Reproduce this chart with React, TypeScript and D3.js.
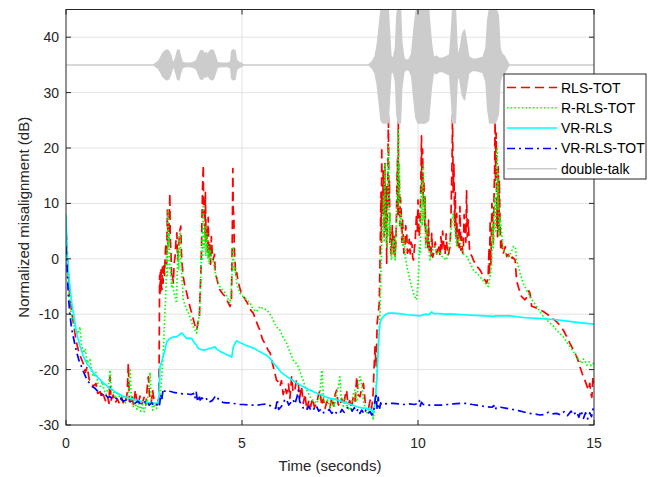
import React from "react";
import * as d3 from "d3";

// ---- data: [time (s), misalignment (dB)] ----
const rlsTot: [number, number][] = [
  [0, 5], [0.02, 3.5], [0.05, -1], [0.08, -4], [0.11, -7], [0.16, -9.5], [0.21, -11.6], [0.28, -14.5], [0.35, -16.5],
  [0.42, -17.8], [0.49, -18.9], [0.55, -20.5], [0.6, -19.5], [0.66, -21.8], [0.72, -22.3], [0.78, -23], [0.85, -22.5],
  [0.9, -24.3], [0.97, -24], [1.02, -25.2], [1.06, -24.5], [1.12, -25.6], [1.18, -24.8], [1.22, -26.1], [1.25, -21.3],
  [1.28, -25.5], [1.34, -24.6], [1.4, -26], [1.46, -25.3], [1.52, -26.2], [1.58, -25], [1.64, -26.3], [1.7, -25.4],
  [1.74, -24.2], [1.77, -18.9], [1.8, -25.8], [1.86, -24.6], [1.92, -26.4], [1.97, -23.7], [2.0, -25.2], [2.05, -26.5],
  [2.1, -24.8], [2.16, -26.2], [2.22, -25], [2.27, -26.4], [2.31, -23], [2.34, -21.3], [2.37, -24.5], [2.42, -26],
  [2.46, -23.7], [2.5, -25.5], [2.55, -26.2], [2.6, -26.1], [2.64, -25], [2.66, -3], [2.67, -6.5], [2.68, -2.5],
  [2.69, -6], [2.7, -2], [2.71, -5], [2.73, -5.5], [2.74, -1.5], [2.76, -4.4], [2.78, -1], [2.8, -3], [2.82, 1],
  [2.84, 2.8], [2.86, -1], [2.88, 8.8], [2.9, 2], [2.92, 5], [2.94, 9], [2.95, 11.8], [2.96, 4], [2.98, 1.6],
  [3.0, -3], [3.02, -2.5], [3.05, -4.4], [3.07, -1], [3.1, 0.5], [3.12, 3], [3.15, 4.7], [3.17, 0], [3.2, 2],
  [3.23, 5], [3.26, 5.9], [3.28, 1], [3.3, -1], [3.33, -3.2], [3.38, -5], [3.43, -6.2], [3.48, -7.6],
  [3.52, -8.6], [3.57, -9.8], [3.62, -11], [3.67, -12.2], [3.71, -12.9], [3.75, -11.5], [3.79, -10.4], [3.81, -6],
  [3.83, -3], [3.85, 2], [3.86, 6], [3.88, 13], [3.9, 16.9], [3.91, 8], [3.93, 10.6], [3.95, 4], [3.96, 12],
  [3.98, 3], [4.0, 5.8], [4.02, 1], [4.04, 7.5], [4.06, 0.5], [4.09, 2.8], [4.11, -1], [4.13, 4], [4.16, 0.5],
  [4.18, -0.2], [4.22, 0.8], [4.24, -2.5], [4.27, -3.2], [4.32, -4.5], [4.37, -5.6], [4.45, -6.3], [4.52, -6.8],
  [4.6, -7.8], [4.66, -8.6], [4.7, -7.5], [4.72, 1.6], [4.74, 16.3], [4.75, 9], [4.77, 7.6], [4.78, 2], [4.8, -0.2],
  [4.82, -3], [4.85, -2.5], [4.9, -4.4], [4.97, -6], [5.04, -6.8],
  [5.1, -7.4], [5.18, -8.3], [5.25, -9.3], [5.32, -9.8], [5.4, -11.2], [5.46, -12.2], [5.51, -12.9], [5.58, -14.5],
  [5.64, -15.2], [5.7, -15.9], [5.75, -16.6], [5.8, -17], [5.85, -18.5], [5.89, -19.5], [5.94, -20.8], [5.98, -21.9],
  [6.03, -22.2], [6.08, -23], [6.12, -22], [6.17, -24.5], [6.22, -23.2], [6.27, -24.3], [6.32, -22.6], [6.36, -25.2],
  [6.41, -21.3], [6.45, -24.1], [6.5, -23.7], [6.55, -21.8], [6.6, -22.5], [6.64, -25.1], [6.69, -23], [6.74, -26.1],
  [6.79, -24.4], [6.84, -27.3], [6.9, -25.5], [6.95, -26.7], [7.0, -25.2], [7.06, -26.8], [7.12, -26.1], [7.17, -24.6],
  [7.22, -23.7], [7.26, -26.5], [7.31, -25.3], [7.36, -27], [7.41, -25.8], [7.46, -26.4], [7.5, -26.9], [7.55, -25.1],
  [7.6, -26.6], [7.65, -24.4], [7.69, -23.7], [7.73, -26.2], [7.78, -26.7], [7.83, -25.2], [7.88, -26.4], [7.93, -24.8],
  [7.97, -23.7], [8.01, -26.3], [8.06, -25.6], [8.11, -27], [8.16, -24.9], [8.21, -25.7], [8.26, -21.3], [8.3, -24.6],
  [8.35, -24.9], [8.4, -23.4], [8.45, -22.5], [8.5, -25.9], [8.54, -26.1], [8.6, -26.8], [8.64, -25.5], [8.68, -27],
  [8.72, -25], [8.75, -20], [8.78, -15.9], [8.81, -19.5], [8.84, -11.6], [8.87, -9.8], [8.9, -8], [8.92, -0.8],
  [8.94, 8], [8.95, 12], [8.96, 3], [8.97, 20.2], [8.98, 10], [9.0, 8.2], [9.01, 16], [9.03, 15], [9.04, 4],
  [9.06, 17.2], [9.07, 9], [9.09, 5], [9.1, 13], [9.11, -0.8], [9.12, 6], [9.14, 12], [9.15, 20], [9.16, 26],
  [9.17, 10], [9.19, 14.2], [9.2, 3], [9.22, 5], [9.23, 1], [9.25, 0.9], [9.27, 6], [9.29, 3.3], [9.31, 0.5],
  [9.33, 4], [9.35, 0.4], [9.37, 3], [9.39, 8], [9.4, 14], [9.42, 18], [9.43, 8], [9.44, 26], [9.45, 12],
  [9.47, 14.2], [9.48, 6], [9.5, 11], [9.52, 9.4], [9.54, 3], [9.56, 7], [9.58, 4], [9.6, 1], [9.63, 2.2], [9.65, 6],
  [9.68, 4.6], [9.7, 1], [9.73, 1.5], [9.75, 3.5], [9.78, 0.9], [9.8, 3], [9.83, 2.5], [9.85, 0.2], [9.87, -0.2],
  [9.9, 2], [9.92, 3], [9.94, 6], [9.96, 8.2], [9.98, 5], [10.0, 10.6], [10.03, 4], [10.06, 6.4], [10.08, 14],
  [10.1, 22.2], [10.11, 12], [10.13, 19.8], [10.15, 10], [10.17, 14.2], [10.19, 6], [10.2, 11.2], [10.22, 3],
  [10.25, 5.2], [10.28, 2], [10.3, 7], [10.32, 1], [10.34, 2.2], [10.37, 0.5], [10.39, 4.6], [10.42, 0.3],
  [10.45, 1.2], [10.49, 3], [10.53, 0.9], [10.58, 2.5], [10.63, 0.4], [10.65, 4], [10.68, 1.8], [10.7, 5],
  [10.72, 3.3], [10.77, 0.8], [10.8, 4.5], [10.82, 2.4], [10.86, 0.6], [10.91, 2.2], [10.93, 6], [10.95, 12],
  [10.97, 19], [10.98, 26], [11.0, 12], [11.02, 17.2], [11.04, 6], [11.06, 12], [11.08, 4], [11.1, 8.2], [11.12, 2],
  [11.14, 5.2], [11.17, 2], [11.19, 9.4], [11.22, 1.5], [11.24, 4], [11.27, 1], [11.29, 2.2], [11.31, 8],
  [11.33, 6], [11.36, 3], [11.38, 12.4], [11.4, 4], [11.43, 7], [11.46, 2], [11.48, 0.9], [11.53, 0.5],
  [11.57, -0.2], [11.62, -0.8], [11.67, -1.4], [11.72, -1.7], [11.76, -2], [11.81, -2.6], [11.86, -3.2],
  [11.9, -3.8], [11.95, -4.4], [11.99, -3.5], [12.02, 2], [12.03, -3], [12.05, 7], [12.07, -1], [12.08, 2.2],
  [12.1, 10], [12.12, 8], [12.14, 3], [12.16, 11.2], [12.18, 17], [12.19, 26], [12.2, 14], [12.22, 22.7],
  [12.24, 6], [12.25, 10.6], [12.26, 4], [12.28, 16.6], [12.3, 5], [12.31, 14.2], [12.33, 7], [12.35, 2],
  [12.37, 3.3], [12.42, 0.9], [12.48, 2.2], [12.52, 0.4], [12.57, 0.8], [12.61, -0.2], [12.68, 0.3], [12.76, -0.2],
  [12.8, -3.9], [12.87, -5.5], [12.94, -6.8], [13.0, -7.2], [13.04, -7.4], [13.1, -6.8], [13.15, -5.8], [13.18, -6.2],
  [13.23, -8.6], [13.3, -8.7], [13.37, -8.9], [13.45, -9.2], [13.56, -9.5], [13.65, -9.9], [13.75, -10.4],
  [13.85, -10.9], [13.94, -11.4], [14.03, -12], [14.13, -12.9], [14.22, -14], [14.32, -15.3], [14.42, -16.5],
  [14.51, -17.7], [14.56, -18.6], [14.6, -19.5], [14.67, -20.8], [14.74, -21.9], [14.79, -22.8], [14.84, -23.7],
  [14.88, -22.5], [14.91, -24.3], [14.94, -25], [14.97, -21.3], [15, -22.5],
];

const rRlsTot: [number, number][] = [
  [0, 4], [0.03, 0], [0.06, -4], [0.1, -7.5], [0.15, -10], [0.21, -11.6], [0.28, -13], [0.34, -13.5], [0.4, -12.3],
  [0.44, -15.5], [0.49, -17], [0.55, -16.2], [0.6, -18.8], [0.68, -18.2], [0.73, -20.5], [0.78, -21.3], [0.85, -20.5],
  [0.91, -22.6], [0.97, -23], [1.03, -22.2], [1.08, -23.7], [1.14, -24.5], [1.2, -23.2], [1.25, -20.1], [1.29, -23.5],
  [1.34, -23.7], [1.4, -25.2], [1.46, -24.3], [1.53, -24.9], [1.58, -25.8], [1.63, -24.6], [1.68, -26.1], [1.73, -25.3],
  [1.78, -23.9], [1.82, -20.1], [1.86, -25.5], [1.91, -26.7], [1.96, -25.9], [2.02, -27.2], [2.07, -26.1],
  [2.12, -27.5], [2.17, -26.3], [2.22, -27.6], [2.27, -26.5], [2.32, -25.2], [2.36, -23], [2.39, -20.5], [2.42, -25],
  [2.46, -27.3], [2.52, -26.2], [2.57, -27], [2.62, -26.1], [2.67, -25.5], [2.72, -21], [2.76, -17.6], [2.8, -11],
  [2.84, -5.6], [2.85, -1], [2.87, 1.6], [2.88, -3], [2.9, 8.8], [2.91, 2], [2.93, 4.6], [2.95, -2], [2.97, -1.4],
  [3.0, -5], [3.02, -4], [3.05, -5.6], [3.1, -7], [3.14, -8], [3.16, -2], [3.18, 1.6], [3.2, -2], [3.22, 3],
  [3.24, 4.6], [3.26, 0], [3.28, -1.4], [3.33, -7.4], [3.38, -8.3], [3.43, -9.2], [3.48, -9.8], [3.52, -10.4],
  [3.57, -11.4], [3.62, -12.3], [3.67, -12.9], [3.71, -13.4], [3.76, -11.5], [3.8, -9.2], [3.84, -1], [3.86, 3],
  [3.87, 5], [3.88, 0], [3.9, 9.4], [3.92, 2], [3.95, 5.8], [3.97, 0.5], [4.0, 4.6], [4.03, 0], [4.05, 2.5],
  [4.07, -1], [4.09, 1.6], [4.14, 0.5], [4.19, -0.8], [4.26, -3.2], [4.32, -4.2],
  [4.37, -5], [4.45, -5.7], [4.52, -6.2], [4.6, -7.2], [4.66, -8], [4.7, -5], [4.73, -1], [4.75, 2.2], [4.77, -2],
  [4.8, -1.5], [4.85, -4.4],
  [4.94, -6.2], [5.04, -6.9], [5.13, -7.4], [5.23, -8], [5.32, -9.2], [5.42, -9.5], [5.51, -8.6], [5.6, -9], [5.7, -9.2],
  [5.77, -9.8], [5.84, -10.4], [5.91, -11.4], [5.98, -12.3], [6.08, -12.9], [6.17, -14.2], [6.27, -15.3],
  [6.36, -16.8], [6.46, -18.3], [6.53, -18.8], [6.6, -19.5], [6.65, -20.5], [6.7, -21.3], [6.75, -22.2], [6.79, -23],
  [6.86, -24], [6.93, -24.9], [7.02, -25.6], [7.12, -26.1], [7.18, -25.2], [7.22, -23.7], [7.27, -20.1], [7.31, -24.8],
  [7.36, -26.2], [7.43, -25.5], [7.5, -26.7], [7.56, -25.2], [7.62, -26.8], [7.68, -24.6], [7.74, -23], [7.78, -21.3],
  [7.82, -25.5], [7.88, -26.6], [7.94, -25.3], [8.0, -26.9], [8.07, -27.3], [8.13, -25.5], [8.17, -24.2],
  [8.21, -23.7], [8.26, -25.8], [8.31, -22.5], [8.35, -21.3], [8.4, -22.4], [8.45, -25.6], [8.49, -26.7],
  [8.55, -27.8], [8.6, -26.9], [8.65, -27.9], [8.68, -27.3], [8.73, -29.1], [8.78, -26], [8.83, -20.7], [8.87, -16.5],
  [8.92, -9.8], [8.95, -2], [8.97, 2.2], [8.99, 6], [9.02, 11.2], [9.04, 3], [9.06, 17.2], [9.08, 5], [9.09, 8],
  [9.11, 2.2], [9.13, 9], [9.14, 12], [9.16, 20.2], [9.18, 4], [9.2, 8.2], [9.22, 1], [9.25, -0.2], [9.28, 3],
  [9.3, 1], [9.33, 4], [9.35, -0.2], [9.38, 5], [9.4, 10], [9.42, 16], [9.44, 23.2], [9.45, 10], [9.47, 17.2],
  [9.49, 6], [9.52, 8.2], [9.55, 3], [9.58, 2.2], [9.6, 4], [9.63, 0.9],
  [9.68, -1.4], [9.73, -2.6], [9.77, -3.8], [9.82, -5], [9.87, -6.2], [9.92, -7], [9.96, -7.4], [10.01, -3.8],
  [10.04, 2], [10.06, 0.9], [10.08, 8], [10.1, 14.2], [10.12, 6], [10.15, 17.2], [10.17, 7], [10.2, 11.2],
  [10.22, 2], [10.25, 6], [10.29, 3.3], [10.34, -0.2], [10.4, 1.5],
  [10.48, 2.2], [10.55, 0.8], [10.62, 1.4], [10.7, 0.2], [10.81, -0.2], [10.86, 1.5], [10.91, 3.3], [10.96, 6.5],
  [11.0, 8.2], [11.05, 5.2], [11.1, 2.2], [11.15, 4], [11.19, 3.3], [11.25, 1.5], [11.29, 0.9], [11.38, 0.4],
  [11.48, -0.8], [11.57, -2], [11.67, -2.6], [11.76, -3.2], [11.9, -4.4], [12.0, -5], [12.05, -3], [12.09, -1.4],
  [12.12, 6.4], [12.14, 2], [12.16, 9], [12.19, 11.2], [12.21, 5], [12.23, 15], [12.25, 19.8], [12.27, 9],
  [12.28, 14.2], [12.3, 4], [12.33, 7.6], [12.37, 5.2], [12.42, 1.6],
  [12.5, 0.9], [12.57, 0.4], [12.65, 1.2], [12.71, 2.2], [12.76, 2.2], [12.8, -0.2], [12.9, -2.6], [12.99, -4.4],
  [13.09, -5.7], [13.18, -6.8], [13.28, -7.8], [13.37, -8.6], [13.46, -9.5], [13.56, -10.4], [13.65, -11],
  [13.75, -11.6], [13.85, -12.2], [13.94, -12.9], [14.03, -13.5], [14.13, -14.1], [14.22, -15], [14.32, -15.9],
  [14.42, -16.8], [14.51, -17.7], [14.58, -18.3], [14.65, -18.9], [14.7, -18.1], [14.74, -18.3], [14.8, -19.2],
  [14.86, -18.6], [14.92, -19.3], [14.98, -18.9], [15, -19.2],
];

const vrRls: [number, number][] = [
  [0, 8], [0.02, 4], [0.04, 0.4], [0.07, -2.5], [0.11, -5], [0.16, -7.8], [0.21, -9.8], [0.3, -13.4], [0.4, -15.8],
  [0.49, -17.6], [0.6, -19], [0.7, -19.8], [0.78, -20.6], [0.9, -21.4], [1.06, -22.4], [1.25, -23.4], [1.44, -24.2],
  [1.62, -24.8], [1.82, -25.2], [2.0, -25.5], [2.2, -25.8], [2.4, -26], [2.58, -26.1], [2.64, -25.6], [2.67, -19.5],
  [2.72, -18.5], [2.81, -16.5], [2.86, -15], [2.95, -14.4], [3.05, -14.1], [3.14, -14.1], [3.22, -13.7], [3.29, -13.4],
  [3.36, -13.9], [3.43, -14.4], [3.5, -14.3], [3.57, -14.4], [3.65, -15.2], [3.71, -15.6], [3.76, -16.2], [3.85, -16.4],
  [3.95, -16.5], [4.05, -16.2], [4.14, -16.1], [4.23, -15.9], [4.28, -16.3], [4.4, -16.8], [4.5, -17.1], [4.6, -17.4],
  [4.71, -17.7], [4.75, -16], [4.8, -15.3], [4.85, -14.8], [4.9, -15], [5.0, -15.3], [5.1, -15.6], [5.23, -15.9],
  [5.35, -16.2], [5.51, -16.8], [5.6, -17.1], [5.7, -17.4], [5.8, -18], [5.89, -18.8], [6.0, -19.6], [6.1, -20.4],
  [6.2, -20.9], [6.36, -21.6], [6.5, -22.2], [6.65, -22.8], [6.8, -23.3], [7.03, -24], [7.22, -24.5], [7.4, -25],
  [7.5, -25.2], [7.6, -25.3], [7.78, -25.6], [7.95, -26], [8.1, -26.3], [8.26, -26.7], [8.4, -26.9], [8.55, -27],
  [8.68, -27.2], [8.73, -27.9], [8.78, -26], [8.83, -21.9], [8.87, -16], [8.92, -11.5], [8.97, -10.8], [9.05, -10.2],
  [9.16, -9.8], [9.3, -9.8], [9.48, -9.9], [9.7, -10.1], [9.9, -10.2], [10.06, -10.3], [10.2, -10], [10.3, -10.1],
  [10.39, -9.6], [10.45, -9.9], [10.6, -9.9], [10.8, -10], [11.0, -10], [11.3, -10.1], [11.6, -10.2], [11.9, -10.3],
  [12.14, -10.4], [12.2, -10.3], [12.4, -10.3], [12.6, -10.3], [13.0, -10.6], [13.5, -10.8], [13.94, -11],
  [14.3, -11.3], [14.7, -11.6], [15, -11.8],
];

const vrRlsTot: [number, number][] = [
  [0, 2.2], [0.02, 0], [0.04, -3], [0.07, -7], [0.11, -10], [0.16, -12.6], [0.23, -14.8], [0.3, -16.8], [0.38, -18.6],
  [0.45, -19.6], [0.49, -20.3], [0.56, -21.3], [0.62, -22.1], [0.68, -22.5], [0.75, -23.1], [0.81, -23.3], [0.87, -23.7],
  [0.94, -24.2], [1.0, -24.3], [1.06, -24.7], [1.12, -24.5], [1.18, -25], [1.25, -24.9], [1.32, -25.3], [1.4, -25.1],
  [1.48, -25.5], [1.55, -25.2], [1.63, -25.7], [1.72, -25.5], [1.8, -25.9], [1.88, -25.6], [1.96, -26.1],
  [2.04, -25.7], [2.12, -26.2], [2.2, -26.1], [2.28, -25.6], [2.36, -26.4], [2.44, -26], [2.5, -26.6], [2.58, -26.4],
  [2.62, -25.8], [2.66, -26.3], [2.69, -24.5], [2.72, -25.5], [2.76, -23.5], [2.8, -23.9], [2.86, -23.7],
  [2.95, -23.9], [3.05, -24.1], [3.15, -24.2], [3.24, -24.3], [3.35, -24.4], [3.45, -24.4], [3.55, -24.5],
  [3.62, -24.3], [3.66, -25.2], [3.7, -24.1], [3.74, -25.8], [3.78, -24.6], [3.81, -25.5], [3.86, -25.1],
  [3.92, -25.4], [3.98, -25.1], [4.04, -25.9], [4.09, -25.8], [4.15, -25.6], [4.2, -25.2], [4.25, -24.7],
  [4.28, -24.9], [4.35, -25.5], [4.45, -25.9], [4.55, -26], [4.65, -26], [4.75, -26.1], [4.85, -26.2], [4.94, -26.3],
  [5.05, -26.3], [5.2, -26.4], [5.32, -26.4], [5.45, -26.4], [5.55, -26.3], [5.7, -26.2], [5.8, -26.5], [5.9, -26.8],
  [5.96, -27], [6.0, -25.4], [6.04, -27.2], [6.1, -26.8], [6.17, -26.2], [6.22, -25.3], [6.27, -25.5], [6.33, -26.4],
  [6.38, -26], [6.45, -25.4], [6.5, -26.2], [6.56, -25], [6.6, -23.7], [6.64, -25.8], [6.7, -26.4], [6.76, -27.2],
  [6.84, -27.3], [6.9, -26.6], [6.96, -27.4], [7.03, -27.3], [7.08, -26.5], [7.12, -26.7], [7.18, -27.5],
  [7.25, -27.1], [7.32, -27.8], [7.41, -27.6], [7.48, -27.2], [7.55, -27.9], [7.62, -27.4], [7.7, -28], [7.78, -27.9],
  [7.84, -27.2], [7.9, -27.7], [7.96, -27], [8.02, -26.8], [8.07, -26.7], [8.13, -27.5], [8.19, -26.9], [8.25, -27.6],
  [8.3, -27.1], [8.35, -27.9], [8.4, -27.3], [8.47, -28], [8.53, -27.2], [8.59, -27.8], [8.64, -27.6], [8.69, -28.2],
  [8.73, -27.9], [8.77, -26], [8.81, -24.3], [8.84, -27.3], [8.87, -25], [8.9, -27.3], [8.94, -26], [8.97, -26.4],
  [9.05, -26.2], [9.15, -26.1], [9.3, -26.1], [9.45, -26.2], [9.6, -26.3], [9.75, -26.2], [9.9, -26.3], [10.0, -26.1],
  [10.04, -25.6], [10.06, -26.6], [10.1, -25.9], [10.15, -26.3], [10.25, -26.4], [10.4, -26.4], [10.53, -26.4],
  [10.7, -26.4], [10.85, -26.3], [11.0, -26.2], [11.2, -26.1], [11.38, -26.1], [11.55, -26.3], [11.75, -26.5],
  [11.95, -26.7], [12.1, -26.8], [12.15, -26.5], [12.19, -27.3], [12.23, -26.8], [12.35, -26.8], [12.52, -27],
  [12.7, -27.2], [12.85, -27.4], [12.98, -27.6], [13.15, -27.9], [13.3, -28], [13.47, -28.2], [13.6, -28.1],
  [13.7, -27.7], [13.8, -28], [13.94, -27.9], [14.05, -28.2], [14.15, -27.6], [14.25, -28.3], [14.35, -27.5],
  [14.41, -28.2], [14.5, -27.6], [14.57, -28.6], [14.63, -27.4], [14.7, -28.8], [14.76, -27.8], [14.82, -28.9],
  [14.88, -27.8], [14.93, -28.5], [14.97, -27.2], [15, -26.8],
];

// double-talk speech, drawn around 35 dB: [time, half-amplitude envelope]
const dtLevel = 35;
const doubleTalk: [number, number][] = [
  [0, 0], [2.5, 0], [2.55, 0.3], [2.62, 0.6], [2.68, 1.2], [2.74, 2], [2.8, 2.4], [2.86, 2.7], [2.92, 2.5], [2.97, 1.8],
  [3.02, 0.6], [3.07, 0.4], [3.12, 1.4], [3.17, 2.6], [3.21, 2.7], [3.25, 1.6], [3.3, 0.5], [3.4, 0.3], [3.5, 0.3],
  [3.6, 0.4], [3.7, 0.7], [3.76, 1.6], [3.82, 2.5], [3.87, 2.6], [3.93, 2], [3.98, 2.2], [4.03, 1.8], [4.08, 2.4],
  [4.14, 2.7], [4.18, 2.6], [4.24, 1.6], [4.3, 0.4], [4.45, 0.3], [4.6, 0.3], [4.68, 0.6], [4.71, 2.5], [4.75, 2.7],
  [4.8, 2.6], [4.84, 1], [4.88, 0.6], [4.95, 0.4], [5.0, 0.2], [5.05, 0], [8.6, 0], [8.65, 0.3], [8.72, 0.8],
  [8.78, 1.5], [8.84, 3.5], [8.9, 7], [8.95, 10], [9.0, 10.5], [9.08, 10.5], [9.15, 10.5], [9.19, 6], [9.23, 1.5],
  [9.3, 1.2], [9.36, 3], [9.4, 9], [9.44, 10.5], [9.5, 10.5], [9.54, 4], [9.6, 1.2], [9.68, 0.8], [9.75, 1],
  [9.82, 2], [9.88, 6], [9.94, 9.5], [10.0, 10.5], [10.1, 10.5], [10.2, 10.5], [10.3, 10], [10.38, 4], [10.44, 1.3],
  [10.52, 1.6], [10.6, 1.2], [10.7, 1.2], [10.8, 1.5], [10.9, 1.8], [10.95, 6], [10.99, 10.5], [11.06, 10.5],
  [11.11, 3], [11.15, 1.5], [11.2, 3], [11.26, 5.5], [11.32, 6.3], [11.38, 4], [11.44, 1.5], [11.55, 1], [11.65, 1],
  [11.75, 1.2], [11.85, 1.4], [11.93, 3], [11.98, 8], [12.04, 10.5], [12.12, 10.5], [12.2, 10.5], [12.28, 9],
  [12.33, 3], [12.38, 2], [12.45, 1.6], [12.5, 1], [12.55, 0.4], [12.6, 0], [15, 0],
];

const xTicks = [0, 5, 10, 15];
const yTicks = [-30, -20, -10, 0, 10, 20, 30, 40];

const series = [
  { name: "RLS-TOT", data: rlsTot, color: "#ff0000", dash: "9,5" },
  { name: "R-RLS-TOT", data: rRlsTot, color: "#00ff00", dash: "1.5,2.2" },
  { name: "VR-RLS", data: vrRls, color: "#00ffff", dash: "none" },
  { name: "VR-RLS-TOT", data: vrRlsTot, color: "#0000ff", dash: "8,4,2,4" },
];

const font = "'Liberation Sans', Arial, Helvetica, sans-serif";
const ink = "#262626";

export default function App() {
  const W = 648, H = 477;
  const left = 66, right = 594, top = 9.5, bottom = 425;

  const x = d3.scaleLinear().domain([0, 15]).range([left, right]);
  const y = d3.scaleLinear().domain([-30, 45]).range([bottom, top]);

  const line = d3.line<[number, number]>().x(d => x(d[0])).y(d => y(d[1]));
  const dtArea = d3.area<[number, number]>()
    .x(d => x(d[0]))
    .y0(d => y(dtLevel - d[1]))
    .y1(d => y(dtLevel + d[1]));

  const tick = 5;
  const legendRows = [
    ...series.map(s => ({ name: s.name, color: s.color, dash: s.dash })),
    { name: "double-talk", color: "#cccccc", dash: "none" },
  ];
  const lg = { x: 504, y: 74, w: 142, h: 105 };

  return (
    <svg width={W} height={H} style={{ position: "absolute", left: 0, top: 0, background: "#fff" }}
      fontFamily={font}>
      <defs>
        <clipPath id="plotArea">
          <rect x={left} y={top} width={right - left} height={bottom - top} />
        </clipPath>
      </defs>
      <rect x={0} y={0} width={W} height={H} fill="#fff" />

      {/* grid */}
      <g stroke="#e3e3e3" strokeWidth={1}>
        {xTicks.slice(1, -1).map(t => (
          <line key={"gx" + t} x1={x(t)} x2={x(t)} y1={top} y2={bottom} />
        ))}
        {yTicks.slice(1).map(t => (
          <line key={"gy" + t} x1={left} x2={right} y1={y(t)} y2={y(t)} />
        ))}
      </g>

      {/* curves */}
      <g clipPath="url(#plotArea)" fill="none" strokeWidth={1.7} strokeLinejoin="round">
        {series.map(s => (
          <path key={s.name} d={line(s.data) || ""} stroke={s.color}
            strokeDasharray={s.dash === "none" ? undefined : s.dash} />
        ))}
        <path d={dtArea(doubleTalk) || ""} fill="#cccccc" stroke="#cccccc" strokeWidth={1.5} />
      </g>

      {/* box + ticks */}
      <g stroke={ink} strokeWidth={1} fill="none">
        <rect x={left} y={top} width={right - left} height={bottom - top} />
        {xTicks.map(t => (
          <g key={"tx" + t}>
            <line x1={x(t)} x2={x(t)} y1={bottom} y2={bottom - tick} />
            <line x1={x(t)} x2={x(t)} y1={top} y2={top + tick} />
          </g>
        ))}
        {yTicks.map(t => (
          <g key={"ty" + t}>
            <line x1={left} x2={left + tick} y1={y(t)} y2={y(t)} />
            <line x1={right} x2={right - tick} y1={y(t)} y2={y(t)} />
          </g>
        ))}
      </g>

      {/* tick labels */}
      <g fill={ink} fontSize={14}>
        {xTicks.map(t => (
          <text key={"lx" + t} x={x(t)} y={448} textAnchor="middle">{t}</text>
        ))}
        {yTicks.map(t => (
          <text key={"ly" + t} x={59} y={y(t) + 5} textAnchor="end">{t}</text>
        ))}
      </g>

      {/* axis titles */}
      <text x={(left + right) / 2} y={471} textAnchor="middle" fontSize={15} fill={ink}>Time (seconds)</text>
      <text transform={`translate(29,${(top + bottom) / 2}) rotate(-90)`} textAnchor="middle" fontSize={15} fill={ink}>
        Normalized misalignment (dB)
      </text>

      {/* legend */}
      <g>
        <rect x={lg.x} y={lg.y} width={lg.w} height={lg.h} fill="#fff" stroke={ink} strokeWidth={1} />
        {legendRows.map((r, i) => {
          const ry = 87.5 + i * 20.3;
          return (
            <g key={r.name}>
              <line x1={507} x2={557} y1={ry} y2={ry} stroke={r.color} strokeWidth={1.5}
                strokeDasharray={r.dash === "none" ? undefined : r.dash} />
              <text x={561} y={ry + 5} fontSize={14} fill="#000">{r.name}</text>
            </g>
          );
        })}
      </g>
    </svg>
  );
}
